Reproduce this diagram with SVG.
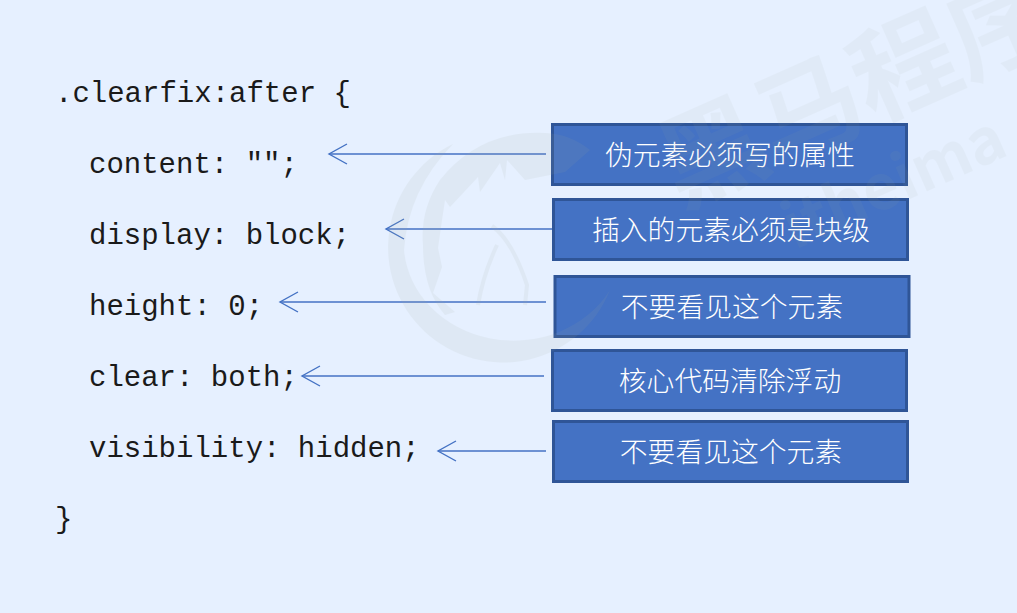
<svg xmlns="http://www.w3.org/2000/svg" width="1017" height="613" viewBox="0 0 1017 613">
<defs>
<marker id="open" markerUnits="userSpaceOnUse" markerWidth="24" markerHeight="26" refX="20" refY="11" orient="auto" viewBox="0 0 24 22">
<path d="M2 1 L20 11 L2 21" fill="none" stroke="#4472c4" stroke-width="1.4"/>
</marker>
</defs>
<style>
.code{font-family:"Liberation Mono",monospace;font-size:29px;fill:#1a1a1a}
.box{fill:#4472c4;stroke:#2f5597;stroke-width:3}
.lbl{font-family:"Noto Sans CJK SC",sans-serif;font-size:27.8px;fill:#fff;text-anchor:middle;font-weight:300}
.wm{font-family:"Noto Sans CJK SC",sans-serif;font-weight:700}
.conn{stroke:#4472c4;stroke-width:1.4;fill:none;marker-end:url(#open)}
</style>
<rect width="1017" height="613" fill="#e6f0ff"/>
<g id="code">
<text class="code" x="55" y="102">.clearfix:after {</text>
<text class="code" x="89" y="173">content: "";</text>
<text class="code" x="89" y="244">display: block;</text>
<text class="code" x="89" y="315">height: 0;</text>
<text class="code" x="89" y="386">clear: both;</text>
<text class="code" x="89" y="457">visibility: hidden;</text>
<text class="code" x="55" y="528">}</text>
</g>
<g id="connectors">
<line class="conn" x1="546" y1="154" x2="329" y2="154"/>
<line class="conn" x1="553" y1="229" x2="386" y2="229"/>
<line class="conn" x1="546" y1="302" x2="280" y2="302"/>
<line class="conn" x1="544" y1="376" x2="302" y2="376"/>
<line class="conn" x1="546" y1="451" x2="438" y2="451"/>
</g>
<g id="n1"><rect class="box" x="552.500" y="124.500" width="354" height="60"/><text class="lbl" x="730" y="165">伪元素必须写的属性</text></g>
<g id="n2"><rect class="box" x="553.500" y="199.500" width="354" height="60"/><text class="lbl" x="731" y="240">插入的元素必须是块级</text></g>
<g id="n3"><rect class="box" x="555" y="276.500" width="354" height="60"/><text class="lbl" x="732" y="317">不要看见这个元素</text></g>
<g id="n4"><rect class="box" x="552.500" y="350.500" width="354" height="60"/><text class="lbl" x="730" y="391">核心代码清除浮动</text></g>
<g id="n5"><rect class="box" x="553.500" y="421.500" width="354" height="60"/><text class="lbl" x="731" y="462">不要看见这个元素</text></g>
<g id="watermark" fill="#a0aa9b">
<g opacity="0.1">
<path d="M453 144 A115 115 0 1 0 610 290 A110 98 0 0 1 404 250 Q408 190 453 144Z"/>
<path d="M590 150 Q570 134 545 133 Q480 130 440 180 Q420 210 423 245 Q423 290 445 315 L455 312 L433 293 L442 267 L438 248 L442 220 L445 200 L450 207 L478 177 L480 192 L500 163 L505 180 L507 160 L525 180 L537 157 L525 180 L565 172Z"/>
<path d="M492 226 Q512 240 527 285 L525 305 M497 245 Q483 275 478 305" fill="none" stroke="#a0aa9b" stroke-width="4"/>
</g>
<g opacity="0.07">
<text class="wm" font-size="105" transform="translate(680 208) rotate(-24)">黑马程序</text>
<text class="wm" font-size="62" font-weight="400" transform="translate(795 250) rotate(-24)">itheima</text>
</g>
</g>
</svg>
